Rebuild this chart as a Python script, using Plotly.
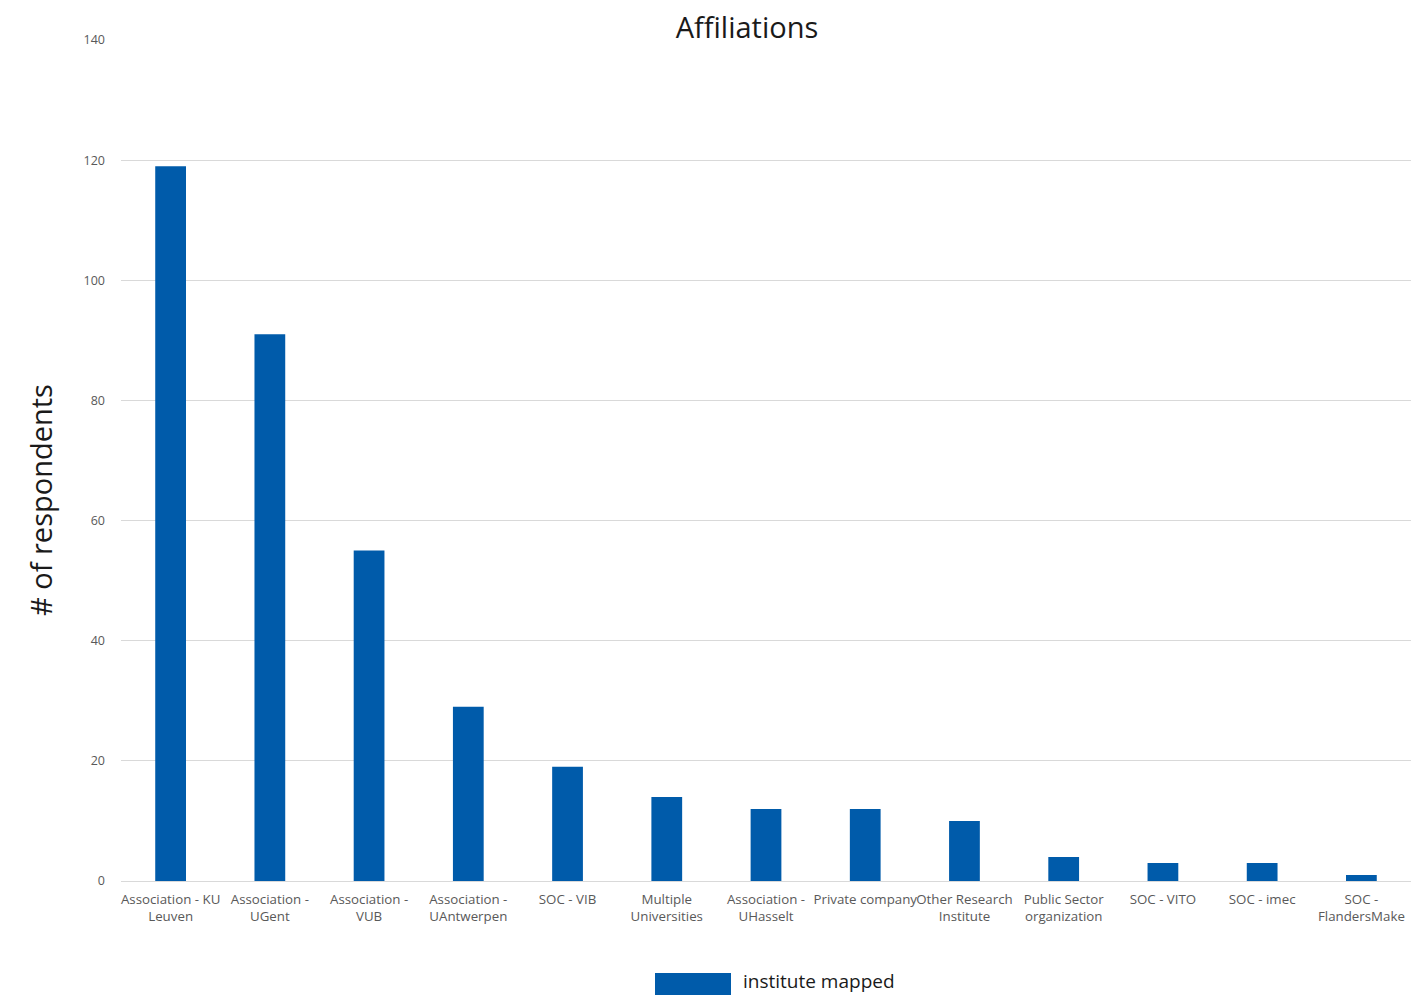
import plotly.graph_objects as go

categories = [
    "Association - KU<br>Leuven", "Association -<br>UGent", "Association -<br>VUB",
    "Association -<br>UAntwerpen", "SOC - VIB", "Multiple<br>Universities",
    "Association -<br>UHasselt", "Private company", "Other Research<br>Institute",
    "Public Sector<br>organization", "SOC - VITO", "SOC - imec", "SOC -<br>FlandersMake",
]
values = [119, 91, 55, 29, 19, 14, 12, 12, 10, 4, 3, 3, 1]
series_name = "institute mapped"
y_ticks = [0, 20, 40, 60, 80, 100, 120, 140]
y_title = "# of respondents"

BAR = "#005BAA"
FONT = "Open Sans"

W, H = 1412, 987
L, R, T, B = 113, 9, 32, 114
PW, PH = W - L - R, H - T - B

fig = go.Figure()
fig.add_trace(go.Bar(x=categories, y=values, name=series_name,
                     marker=dict(color=BAR, line=dict(width=0)),
                     width=0.31, showlegend=False))

fig.update_layout(
    width=W, height=H,
    margin=dict(l=L, r=R, t=T, b=B),
    paper_bgcolor="white", plot_bgcolor="white",
    font=dict(family=FONT, color="#595959"),
    title=dict(text="Affiliations", x=739 / W, xanchor="center", y=1 - 20 / H, yanchor="middle",
               font=dict(family=FONT, size=29, color="#1a1a1a")),
    xaxis=dict(showgrid=False, showline=True, linecolor="#d9d9d9", linewidth=1,
               tickfont=dict(size=13.3, color="#595959"), ticks="", tickangle=0,
               ticklabelstandoff=6),
    yaxis=dict(range=[0, 140], tickvals=y_ticks, showgrid=True, gridcolor="#d9d9d9",
               gridwidth=1, zeroline=False, showline=False,
               tickfont=dict(size=12.5, color="#595959"), ticks="", ticklabelstandoff=15),
    bargap=0.69,
)

# y-axis title placed as annotation (offset below plot centre as in reference)
fig.add_annotation(xref="paper", yref="paper", x=(32 - L) / PW, y=1 - (492 - T) / PH,
                   xanchor="center", yanchor="middle", text=y_title, textangle=-90,
                   showarrow=False, font=dict(family=FONT, size=29, color="#1a1a1a"))

# legend drawn manually at bottom center (coordinates relative to plot area)
fig.add_shape(type="rect", xref="paper", yref="paper",
              x0=(647 - L) / PW, x1=(723 - L) / PW,
              y0=-(H - (T + PH)) / PH, y1=-(965 - (T + PH)) / PH,
              fillcolor=BAR, line=dict(width=0))
fig.add_annotation(xref="paper", yref="paper", x=(733 - L) / PW, y=-(973 - (T + PH)) / PH,
                   xanchor="left", yanchor="middle", text=series_name, showarrow=False,
                   font=dict(family=FONT, size=19, color="#1a1a1a"))

fig.write_html("out.html")
